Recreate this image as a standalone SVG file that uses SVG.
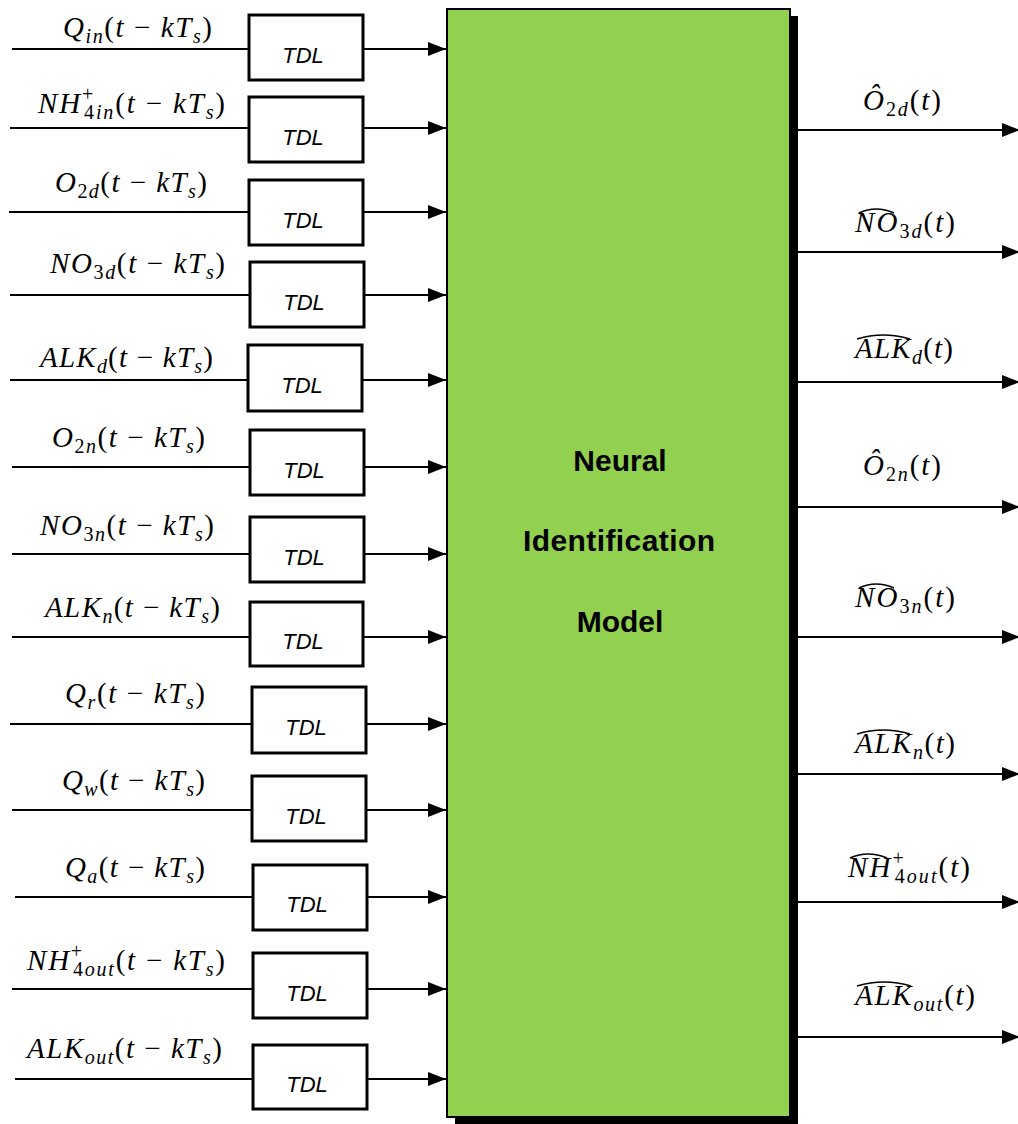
<svg xmlns="http://www.w3.org/2000/svg" width="1018" height="1124" viewBox="0 0 1018 1124">
<style>
.lbl{font-family:"Liberation Serif",serif;font-size:29px;fill:#000}
.i{font-style:italic}
.s{font-size:20px}
.tdl{font-family:"Liberation Sans",Arial,sans-serif;font-style:italic;font-size:22px;text-anchor:middle;fill:#000}
.core{font-family:"Liberation Sans",Arial,sans-serif;font-weight:bold;font-size:30px;text-anchor:middle;fill:#000}
.ln{stroke:#000;stroke-width:2;fill:none}
.box{fill:#fff;stroke:#000;stroke-width:3}
.hat{stroke:#000;stroke-width:1.5;fill:none}
</style>
<defs>
<marker id="ah" markerUnits="userSpaceOnUse" markerWidth="18" markerHeight="14" refX="18" refY="7" orient="auto">
<path d="M0,0 L18,7 L0,14 z" fill="#000"/>
</marker>
</defs>
<rect x="455" y="16" width="343" height="1108" fill="#000"/>
<g id="model">
<rect x="447" y="9" width="343" height="1108" fill="#92D050" stroke="#000" stroke-width="2"/>
<text class="core" x="620" y="471">Neural</text>
<text class="core" x="619" y="551" textLength="192" lengthAdjust="spacing">Identification</text>
<text class="core" x="620" y="632">Model</text>
</g>
<g id="connectors">
<path class="ln" d="M12,49H249M10,128H249M9,212H249M10,295H249M10,380H248M12,467H250M12,554H250M12,637H250M10,724H252M12,810H252M15,897H253M12,989H253M15,1079H253"/>
<path class="ln" marker-end="url(#ah)" d="M363,49H446"/>
<path class="ln" marker-end="url(#ah)" d="M363,128H446"/>
<path class="ln" marker-end="url(#ah)" d="M363,212H446"/>
<path class="ln" marker-end="url(#ah)" d="M364,295H446"/>
<path class="ln" marker-end="url(#ah)" d="M362,380H446"/>
<path class="ln" marker-end="url(#ah)" d="M364,467H446"/>
<path class="ln" marker-end="url(#ah)" d="M364,554H446"/>
<path class="ln" marker-end="url(#ah)" d="M363,637H446"/>
<path class="ln" marker-end="url(#ah)" d="M366,724H446"/>
<path class="ln" marker-end="url(#ah)" d="M366,810H446"/>
<path class="ln" marker-end="url(#ah)" d="M367,897H446"/>
<path class="ln" marker-end="url(#ah)" d="M367,989H446"/>
<path class="ln" marker-end="url(#ah)" d="M367,1079H446"/>
<path class="ln" marker-end="url(#ah)" d="M791,130H1020"/>
<path class="ln" marker-end="url(#ah)" d="M791,252H1020"/>
<path class="ln" marker-end="url(#ah)" d="M791,382H1020"/>
<path class="ln" marker-end="url(#ah)" d="M791,507H1020"/>
<path class="ln" marker-end="url(#ah)" d="M791,637H1020"/>
<path class="ln" marker-end="url(#ah)" d="M791,774H1020"/>
<path class="ln" marker-end="url(#ah)" d="M791,902H1020"/>
<path class="ln" marker-end="url(#ah)" d="M791,1037H1020"/>
</g>
<g id="tdl1"><rect class="box" x="249" y="15" width="114" height="65"/><text class="tdl" x="303" y="63">TDL</text></g>
<g id="tdl2"><rect class="box" x="249" y="97" width="114" height="65"/><text class="tdl" x="303" y="145">TDL</text></g>
<g id="tdl3"><rect class="box" x="249" y="180" width="114" height="65"/><text class="tdl" x="303" y="228">TDL</text></g>
<g id="tdl4"><rect class="box" x="250" y="262" width="114" height="65"/><text class="tdl" x="304" y="310">TDL</text></g>
<g id="tdl5"><rect class="box" x="248" y="345" width="114" height="66"/><text class="tdl" x="302" y="393">TDL</text></g>
<g id="tdl6"><rect class="box" x="250" y="430" width="114" height="65"/><text class="tdl" x="304" y="478">TDL</text></g>
<g id="tdl7"><rect class="box" x="250" y="517" width="114" height="65"/><text class="tdl" x="304" y="565">TDL</text></g>
<g id="tdl8"><rect class="box" x="250" y="602" width="113" height="64"/><text class="tdl" x="303" y="649">TDL</text></g>
<g id="tdl9"><rect class="box" x="252" y="687" width="114" height="66"/><text class="tdl" x="306" y="735">TDL</text></g>
<g id="tdl10"><rect class="box" x="252" y="776" width="114" height="65"/><text class="tdl" x="306" y="824">TDL</text></g>
<g id="tdl11"><rect class="box" x="253" y="865" width="114" height="65"/><text class="tdl" x="307" y="912">TDL</text></g>
<g id="tdl12"><rect class="box" x="253" y="953" width="114" height="65"/><text class="tdl" x="307" y="1001">TDL</text></g>
<g id="tdl13"><rect class="box" x="253" y="1045" width="114" height="64"/><text class="tdl" x="307" y="1092">TDL</text></g>
<g id="inlabels">
<text class="lbl" x="63" y="37" textLength="149" lengthAdjust="spacing"><tspan class="i">Q</tspan><tspan class="s i" dy="6">in</tspan><tspan dy="-6">(</tspan><tspan class="i">t</tspan> − <tspan class="i">kT</tspan><tspan class="s i" dy="6">s</tspan><tspan dy="-6">)</tspan></text>
<text class="lbl" x="38" y="113" textLength="187" lengthAdjust="spacing"><tspan class="i">NH</tspan><tspan class="s" dy="-12">+</tspan><tspan class="s" dx="-11" dy="18">4</tspan><tspan class="s i">in</tspan><tspan dy="-6">(</tspan><tspan class="i">t</tspan> − <tspan class="i">kT</tspan><tspan class="s i" dy="6">s</tspan><tspan dy="-6">)</tspan></text>
<text class="lbl" x="55" y="192" textLength="152" lengthAdjust="spacing"><tspan class="i">O</tspan><tspan class="s" dy="6">2</tspan><tspan class="s i">d</tspan><tspan dy="-6">(</tspan><tspan class="i">t</tspan> − <tspan class="i">kT</tspan><tspan class="s i" dy="6">s</tspan><tspan dy="-6">)</tspan></text>
<text class="lbl" x="50" y="273" textLength="175" lengthAdjust="spacing"><tspan class="i">NO</tspan><tspan class="s" dy="6">3</tspan><tspan class="s i">d</tspan><tspan dy="-6">(</tspan><tspan class="i">t</tspan> − <tspan class="i">kT</tspan><tspan class="s i" dy="6">s</tspan><tspan dy="-6">)</tspan></text>
<text class="lbl" x="40" y="367" textLength="173" lengthAdjust="spacing"><tspan class="i">ALK</tspan><tspan class="s i" dy="6">d</tspan><tspan dy="-6">(</tspan><tspan class="i">t</tspan> − <tspan class="i">kT</tspan><tspan class="s i" dy="6">s</tspan><tspan dy="-6">)</tspan></text>
<text class="lbl" x="52" y="447" textLength="153" lengthAdjust="spacing"><tspan class="i">O</tspan><tspan class="s" dy="6">2</tspan><tspan class="s i">n</tspan><tspan dy="-6">(</tspan><tspan class="i">t</tspan> − <tspan class="i">kT</tspan><tspan class="s i" dy="6">s</tspan><tspan dy="-6">)</tspan></text>
<text class="lbl" x="40" y="535" textLength="174" lengthAdjust="spacing"><tspan class="i">NO</tspan><tspan class="s" dy="6">3</tspan><tspan class="s i">n</tspan><tspan dy="-6">(</tspan><tspan class="i">t</tspan> − <tspan class="i">kT</tspan><tspan class="s i" dy="6">s</tspan><tspan dy="-6">)</tspan></text>
<text class="lbl" x="45" y="617" textLength="175" lengthAdjust="spacing"><tspan class="i">ALK</tspan><tspan class="s i" dy="6">n</tspan><tspan dy="-6">(</tspan><tspan class="i">t</tspan> − <tspan class="i">kT</tspan><tspan class="s i" dy="6">s</tspan><tspan dy="-6">)</tspan></text>
<text class="lbl" x="65" y="703" textLength="140" lengthAdjust="spacing"><tspan class="i">Q</tspan><tspan class="s i" dy="6">r</tspan><tspan dy="-6">(</tspan><tspan class="i">t</tspan> − <tspan class="i">kT</tspan><tspan class="s i" dy="6">s</tspan><tspan dy="-6">)</tspan></text>
<text class="lbl" x="62" y="790" textLength="143" lengthAdjust="spacing"><tspan class="i">Q</tspan><tspan class="s i" dy="6">w</tspan><tspan dy="-6">(</tspan><tspan class="i">t</tspan> − <tspan class="i">kT</tspan><tspan class="s i" dy="6">s</tspan><tspan dy="-6">)</tspan></text>
<text class="lbl" x="65" y="877" textLength="140" lengthAdjust="spacing"><tspan class="i">Q</tspan><tspan class="s i" dy="6">a</tspan><tspan dy="-6">(</tspan><tspan class="i">t</tspan> − <tspan class="i">kT</tspan><tspan class="s i" dy="6">s</tspan><tspan dy="-6">)</tspan></text>
<text class="lbl" x="27" y="970" textLength="198" lengthAdjust="spacing"><tspan class="i">NH</tspan><tspan class="s" dy="-12">+</tspan><tspan class="s" dx="-11" dy="18">4</tspan><tspan class="s i">out</tspan><tspan dy="-6">(</tspan><tspan class="i">t</tspan> − <tspan class="i">kT</tspan><tspan class="s i" dy="6">s</tspan><tspan dy="-6">)</tspan></text>
<text class="lbl" x="27" y="1058" textLength="195" lengthAdjust="spacing"><tspan class="i">ALK</tspan><tspan class="s i" dy="6">out</tspan><tspan dy="-6">(</tspan><tspan class="i">t</tspan> − <tspan class="i">kT</tspan><tspan class="s i" dy="6">s</tspan><tspan dy="-6">)</tspan></text>
</g>
<g id="outlabels">
<text class="lbl" x="863" y="110" textLength="78" lengthAdjust="spacing"><tspan class="i">Ô</tspan><tspan class="s" dy="6">2</tspan><tspan class="s i">d</tspan><tspan dy="-6">(</tspan><tspan class="i">t</tspan>)</text>
<text class="lbl" x="855" y="232" textLength="100" lengthAdjust="spacing"><tspan class="i">NO</tspan><tspan class="s" dy="6">3</tspan><tspan class="s i">d</tspan><tspan dy="-6">(</tspan><tspan class="i">t</tspan>)</text>
<path class="hat" d="M859,213 Q876,205 894,213"/>
<text class="lbl" x="855" y="358" textLength="98" lengthAdjust="spacing"><tspan class="i">ALK</tspan><tspan class="s i" dy="6">d</tspan><tspan dy="-6">(</tspan><tspan class="i">t</tspan>)</text>
<path class="hat" d="M857,339 Q883,331 910,339"/>
<text class="lbl" x="863" y="475" textLength="78" lengthAdjust="spacing"><tspan class="i">Ô</tspan><tspan class="s" dy="6">2</tspan><tspan class="s i">n</tspan><tspan dy="-6">(</tspan><tspan class="i">t</tspan>)</text>
<text class="lbl" x="855" y="607" textLength="100" lengthAdjust="spacing"><tspan class="i">NO</tspan><tspan class="s" dy="6">3</tspan><tspan class="s i">n</tspan><tspan dy="-6">(</tspan><tspan class="i">t</tspan>)</text>
<path class="hat" d="M859,588 Q876,580 894,588"/>
<text class="lbl" x="855" y="753" textLength="100" lengthAdjust="spacing"><tspan class="i">ALK</tspan><tspan class="s i" dy="6">n</tspan><tspan dy="-6">(</tspan><tspan class="i">t</tspan>)</text>
<path class="hat" d="M857,734 Q883,726 910,734"/>
<text class="lbl" x="848" y="877" textLength="122" lengthAdjust="spacing"><tspan class="i">NH</tspan><tspan class="s" dy="-12">+</tspan><tspan class="s" dx="-11" dy="18">4</tspan><tspan class="s i">out</tspan><tspan dy="-6">(</tspan><tspan class="i">t</tspan>)</text>
<path class="hat" d="M850,858 Q868,850 887,858"/>
<text class="lbl" x="855" y="1005" textLength="120" lengthAdjust="spacing"><tspan class="i">ALK</tspan><tspan class="s i" dy="6">out</tspan><tspan dy="-6">(</tspan><tspan class="i">t</tspan>)</text>
<path class="hat" d="M857,986 Q884,978 911,986"/>
</g>
</svg>
